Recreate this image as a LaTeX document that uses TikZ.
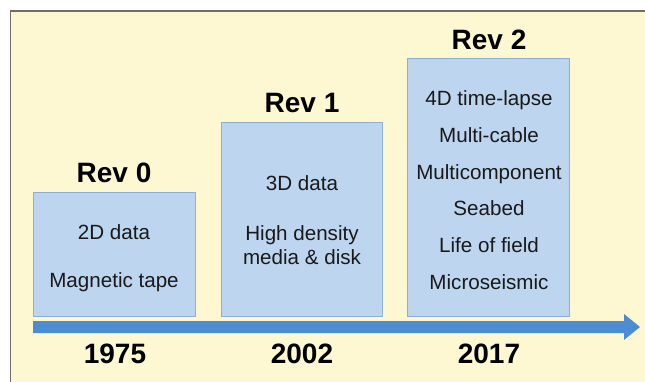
\documentclass[tikz,border=0pt]{standalone}
\usepackage{fontspec}
\setmainfont{Liberation Sans}
\definecolor{bgyellow}{HTML}{FDF8D2}
\definecolor{framegray}{HTML}{6E6E62}
\definecolor{boxfill}{HTML}{BDD5EE}
\definecolor{boxedge}{HTML}{8CAED8}
\definecolor{arrowblue}{HTML}{4C8CD2}
\tikzset{
  revbox/.style={draw=boxedge, line width=1pt, fill=boxfill},
  itemtext/.style={font=\fontsize{20.6}{24}\selectfont, anchor=base, inner sep=0pt, text=black!90},
  headtext/.style={font=\fontsize{28}{32}\selectfont\bfseries, anchor=base, inner sep=0pt, text=black},
}
\begin{document}
\begin{tikzpicture}[x=1pt,y=-1pt]
\useasboundingbox (0,0) rectangle (645,382);
\fill[white] (0,0) rectangle (645,382);
\draw[framegray, line width=1.5pt, fill=bgyellow] (10.5,383) -- (10.5,11) -- (647,11);
\fill[bgyellow] (11.3,11.8) rectangle (645,382);

% boxes
\draw[revbox] (33,193) rectangle (195.5,316) coordinate (b0);
\draw[revbox] (221,122.5) rectangle (382.5,316) coordinate (b1);
\draw[revbox] (407.5,59) rectangle (569.5,316) coordinate (b2);

% arrow
\fill[arrowblue] (33,321) -- (624,321) -- (624,314) -- (640,327) -- (624,340) -- (624,333) -- (33,333) -- cycle;

% headings
\node[headtext] (r0) at (114,183) {Rev 0};
\node[headtext] (r1) at (302,113) {Rev 1};
\node[headtext] (r2) at (489,50) {Rev 2};

% years
\node[headtext] (y0) at (115,363) {1975};
\node[headtext] (y1) at (302,363) {2002};
\node[headtext] (y2) at (489,363) {2017};

% Rev 0 items
\node[itemtext] (t01) at (114,239.5) {2D data};
\node[itemtext] (t02) at (114,287.5) {Magnetic tape};

% Rev 1 items
\node[itemtext] (t11) at (302,190.5) {3D data};
\node[itemtext] (t12) at (302,240.5) {High density};
\node[itemtext] (t13) at (302,264.5) {media \& disk};

% Rev 2 items
\node[itemtext] (t21) at (489,105.5) {4D time-lapse};
\node[itemtext] (t22) at (489,142.5) {Multi-cable};
\node[itemtext] (t23) at (489,179.5) {Multicomponent};
\node[itemtext] (t24) at (489,215.5) {Seabed};
\node[itemtext] (t25) at (489,252.5) {Life of field};
\node[itemtext] (t26) at (489,289.5) {Microseismic};
\end{tikzpicture}
\end{document}
